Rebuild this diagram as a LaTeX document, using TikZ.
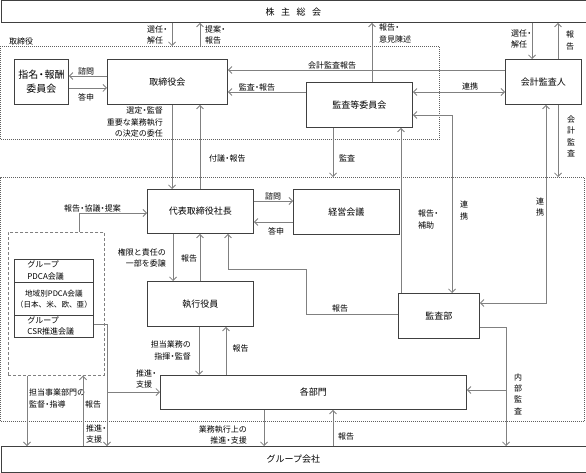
\documentclass[tikz,border=0pt]{standalone}
\usepackage{fontspec}
\setmainfont{Noto Sans CJK JP}
\usetikzlibrary{arrows.meta}
\definecolor{linec}{HTML}{808080}
\definecolor{boxc}{HTML}{404040}
\definecolor{dashc}{HTML}{606060}
\newcommand\dt{\kern-1.8pt・\kern-1.8pt}
\begin{document}
\begin{tikzpicture}[x=1pt,y=-1pt,
  box/.style={draw=boxc, line width=0.9pt, fill=white, inner sep=0pt, align=center, anchor=north west, font=\fontsize{9}{11}\selectfont},
  row/.style={draw=boxc, line width=0.8pt, fill=white, inner sep=0pt, anchor=north west, minimum width=79pt, font=\fontsize{8}{12}\selectfont},
  lbl/.style={inner sep=0pt, font=\fontsize{8}{11.5}\selectfont},
  vlbl/.style={inner sep=0pt, align=center, font=\fontsize{8}{11.3}\selectfont},
  conn/.style={draw=linec, line width=0.8pt},
  arr/.style={conn, -{Straight Barb[length=3.5pt,width=7pt]}},
  darr/.style={conn, {Straight Barb[length=3.5pt,width=7pt]}-{Straight Barb[length=3.5pt,width=7pt]}},
  zone/.style={draw=dashc, line width=0.7pt, dash pattern=on 1pt off 1pt, inner sep=0pt, anchor=north west},
  izone/.style={draw=linec, line width=0.7pt, dash pattern=on 3pt off 2pt, inner sep=0pt, anchor=north west}
]
\useasboundingbox[fill=white] (0,0) rectangle (586,473);

% zones
\node[zone, minimum width=438.5pt, minimum height=93pt] (board) at (0.5,46) {};
\node[zone, minimum width=583.5pt, minimum height=244pt] (exec) at (0.5,177) {};
\node[izone, minimum width=96pt, minimum height=143pt] (pz) at (8,232) {};
\node[lbl, anchor=west] (lboard) at (9,41) {取締役};

% boxes
\node[box, minimum width=585pt, minimum height=21.5pt] (sh) at (0.5,0.5) {株\hspace{6.5pt}主\hspace{6.5pt}総\hspace{6.5pt}会};
\node[box, minimum width=54pt, minimum height=45pt, font=\fontsize{10}{14}\selectfont] (shimei) at (14,59) {指名\dt 報酬\\委員会};
\node[box, minimum width=120pt, minimum height=45pt] (torikai) at (107,59) {取締役会};
\node[box, minimum width=106pt, minimum height=45pt] (kansa) at (306,82) {監査等委員会};
\node[box, minimum width=76pt, minimum height=45pt] (kaikei) at (505,59) {会計監査人};
\node[box, minimum width=106pt, minimum height=44pt] (daihyo) at (147,189) {代表取締役社長};
\node[box, minimum width=106pt, minimum height=45pt] (keiei) at (293,189) {経営会議};
\node[box, minimum width=106pt, minimum height=45pt] (shikko) at (147,281) {執行役員};
\node[box, minimum width=81pt, minimum height=45pt] (kansabu) at (398,293) {監査部};
\node[box, minimum width=306pt, minimum height=34pt] (kakubu) at (160,375) {各部門};
\node[box, minimum width=585pt, minimum height=26pt] (group) at (0.5,446) {グループ会社};

% PDCA rows
\node[row, minimum height=23pt, text width=53pt, align=left] (r1) at (14,259) {グループ\\PDCA会議};
\node[row, minimum height=33pt, align=center, font=\fontsize{7.6}{11}\selectfont] (r2) at (14,282) {地域別PDCA会議\\（日本、米、欧、亜）};
\node[row, minimum height=22pt, text width=53pt, align=left, font=\fontsize{8}{11}\selectfont] (r3) at (14,315) {グループ\\CSR推進会議};

% top connectors
\draw[arr] (172,0 |- sh.south) -- (172,0 |- board.north);
\node[lbl, anchor=west, align=left] (l1) at (147,35) {選任\dt\\解任};
\draw[arr] (200,0 |- board.north) -- (200,0 |- sh.south);
\node[lbl, anchor=west, align=left] (l2) at (205,35) {提案\dt\\報告};

\draw[arr] (torikai.west |- 0,76) -- (shimei.east |- 0,76);
\node[lbl] (l3) at (86,71) {諮問};
\draw[arr] (shimei.east |- 0,88) -- (torikai.west |- 0,88);
\node[lbl] (l4) at (86,97) {答申};

\node[lbl, anchor=east, align=right] (l5) at (163,122) {選定\dt 監督\\重要な業務執行\\の決定の委任};
\draw[arr] (172,0 |- torikai.south) -- (172,0 |- daihyo.north);
\draw[arr] (200,0 |- daihyo.north) -- (200,0 |- torikai.south);
\node[lbl, anchor=west] (l6) at (209,158) {付議\dt 報告};

\draw[arr] (kaikei.west |- 0,70) -- (torikai.east |- 0,70);
\node[lbl] (l7) at (332,65) {会計監査報告};
\draw[arr] (kansa.west |- 0,92) -- (torikai.east |- 0,92);
\node[lbl] (l8) at (257,87) {監査\dt 報告};

\draw[arr] (372,0 |- kansa.north) -- (372,0 |- sh.south);
\node[lbl, anchor=west, align=left] (l9) at (379,33.5) {報告\dt\\意見陳述};
\draw[darr] (kansa.east |- 0,92) -- (kaikei.west |- 0,92);
\node[lbl] (l10) at (470,86) {連携};

\draw[arr] (532,0 |- sh.south) -- (532,0 |- kaikei.north);
\node[lbl, anchor=west, align=left] (l11) at (511,39) {選任\dt\\解任};
\draw[arr] (558,0 |- kaikei.north) -- (558,0 |- sh.south);
\node[vlbl] (l12) at (570,40.5) {報\\告};
\draw[arr] (558,0 |- kaikei.south) -- (558,0 |- exec.north);
\node[vlbl] (l13) at (571,136.5) {会\\計\\監\\査};

\draw[darr] (546,0 |- kaikei.south) |- (kansabu.east |- 0,303);
\node[vlbl] (l14) at (540,207) {連\\携};
\draw[darr] (kansa.east |- 0,115) -| (452,0 |- kansabu.north);
\node[vlbl] (l15) at (464,210.5) {連\\携};
\draw[arr] (401,0 |- kansabu.north) -- (401,0 |- kansa.south);
\node[lbl, anchor=west, align=left] (l16) at (418,219.5) {報告\dt\\補助};
\draw[arr] (333,0 |- kansa.south) -- (333,0 |- exec.north);
\node[lbl] (l17) at (347,158) {監査};

% middle
\draw[arr] (79,0 |- pz.north) |- (daihyo.west |- 0,213);
\node[lbl] (l18) at (92.5,208.5) {報告\dt 協議\dt 提案};
\draw[arr] (daihyo.east |- 0,201) -- (keiei.west |- 0,201);
\node[lbl] (l19) at (273,196) {諮問};
\draw[arr] (keiei.west |- 0,222) -- (daihyo.east |- 0,222);
\node[lbl] (l20) at (276,231) {答申};

\draw[arr] (173,0 |- daihyo.south) -- (173,0 |- shikko.north);
\node[lbl, anchor=east, align=right] (l21) at (166,258) {権限と責任の\\一部を委譲};
\draw[arr] (200,0 |- shikko.north) -- (200,0 |- daihyo.south);
\node[lbl] (l22) at (189,258) {報告};

\coordinate (b1) at (306,314);
\coordinate (b2) at (306,269);
\coordinate (b3) at (228,269);
\draw[arr] (kansabu.west |- b1) -- (b1) -- (b2) -- (b3) -- (b3 |- daihyo.south);
\node[lbl] (l23) at (340,308) {報告};

\draw[arr] (199,0 |- shikko.south) -- (199,0 |- kakubu.north);
\node[lbl, anchor=east, align=right] (l24) at (191,350.5) {担当業務の\\指揮\dt 監督};
\draw[arr] (226,0 |- kakubu.north) -- (226,0 |- shikko.south);
\node[lbl] (l25) at (240.5,348) {報告};

% bottom
\coordinate (c1) at (107,392);
\draw[arr] (r3.east |- 0,324) -| (107,0 |- group.north);
\draw[arr] (c1) -- (kakubu.west |- c1);
\node[lbl, anchor=west, align=left] (l26) at (136,379) {推進\dt\\支援};
\node[lbl, anchor=west, align=left] (l27) at (86,434) {推進\dt\\支援};

\draw[arr] (27,0 |- pz.south) -- (27,0 |- group.north);
\node[lbl, anchor=west, align=left] (l28) at (29,398.5) {担当事業部門の\\監督\dt 指導};
\draw[arr] (83,0 |- group.north) -- (83,0 |- pz.south);
\node[lbl] (l29) at (93,404) {報告};

\draw[arr] (264,0 |- kakubu.south) -- (264,0 |- group.north);
\node[lbl, anchor=east, align=right] (l30) at (247,435) {業務執行上の\\推進\dt 支援};
\draw[arr] (333,0 |- group.north) -- (333,0 |- kakubu.south);
\node[lbl] (l31) at (346,436) {報告};

\coordinate (c2) at (506,390);
\draw[arr] (kansabu.east |- 0,327) -| (506,0 |- group.north);
\draw[arr] (c2) -- (kakubu.east |- c2);
\node[vlbl] (l32) at (518,394) {内\\部\\監\\査};
\end{tikzpicture}
\end{document}
